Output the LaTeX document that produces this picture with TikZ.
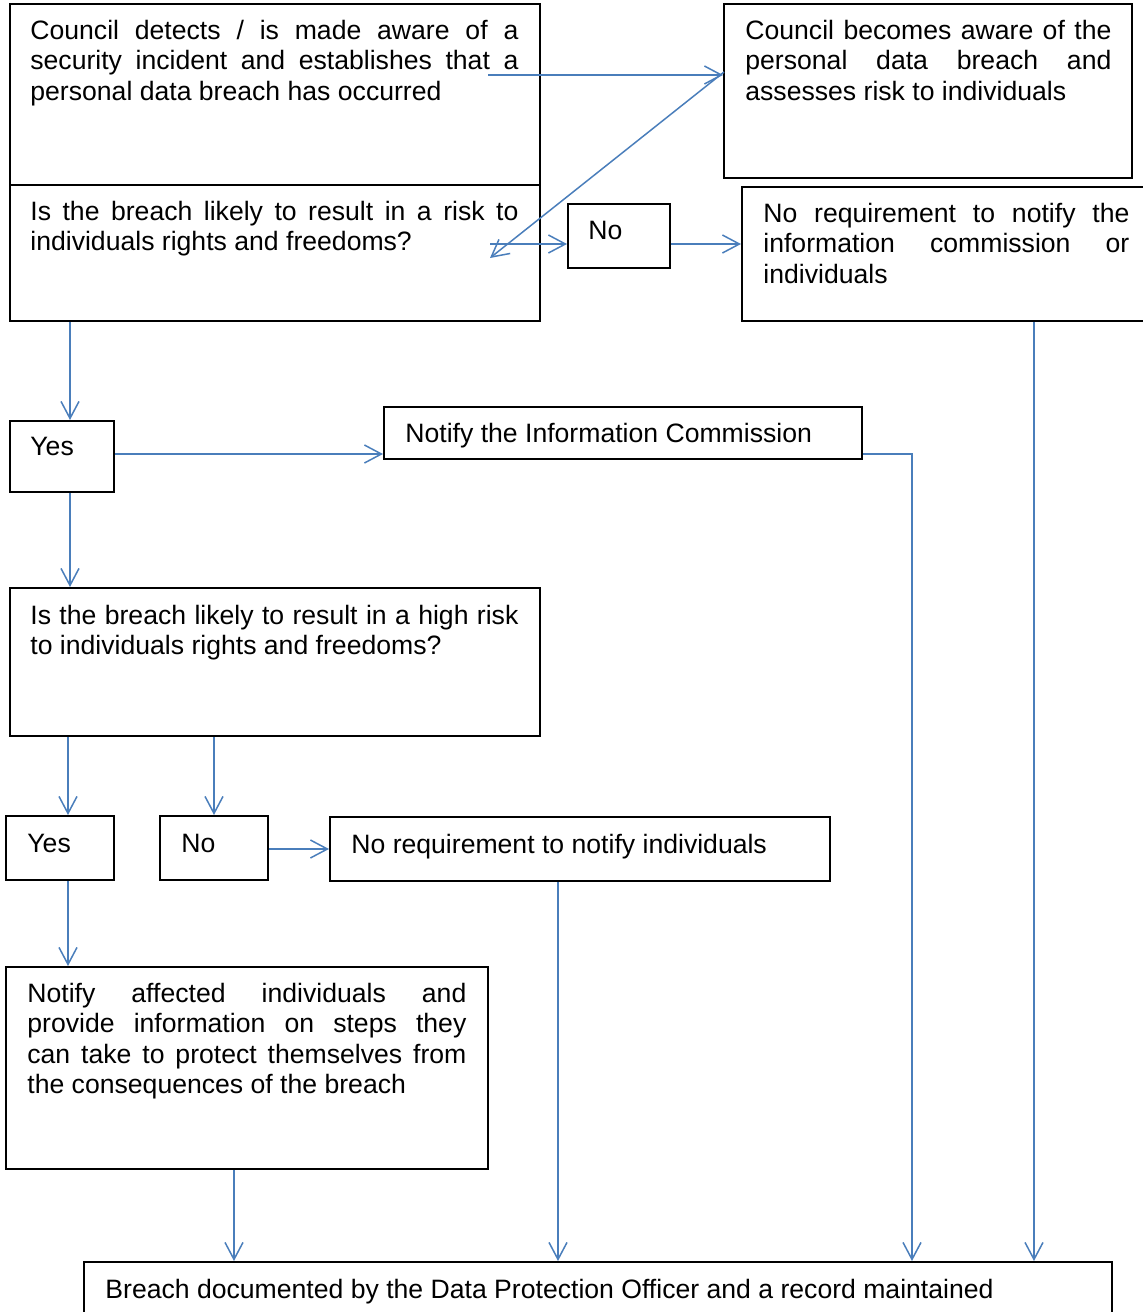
\documentclass[tikz,border=0pt]{standalone}
\usepackage{fontspec}
\setmainfont{Liberation Sans}
\usetikzlibrary{arrows.meta,fit}
\definecolor{lineblue}{HTML}{4A7EBB}
\newcommand\fs{\fontsize{13.3pt}{15.25pt}\selectfont\hyphenpenalty=10000\tolerance=10000\emergencystretch=20pt}
\newcommand\tl{\rule{0pt}{10.5pt}}
\begin{document}
\begin{tikzpicture}[x=0.5pt,y=-0.5pt,
  box/.style={draw=black,line width=1pt,inner sep=0pt},
  txt/.style={anchor=north west,inner sep=0pt,align=justify,font=\fs},
  arr/.style={draw=lineblue,line width=0.75pt,-{Straight Barb[length=8.5pt,width=9pt]}},
  seg/.style={draw=lineblue,line width=0.75pt}]
\useasboundingbox (0,0) rectangle (1142,1312);
% boxes
\node[box,fit={(10,4) (540,185)}] (A) {};
\node[box,fit={(10,185) (540,321)}] (B) {};
\node[box,fit={(724,4) (1132,178)}] (C) {};
\node[box,fit={(568,204) (670,268)}] (No1) {};
\node[box,fit={(742,187) (1152,321)}] (D) {};
\node[box,fit={(10,421) (114,492)}] (Yes1) {};
\node[box,fit={(384,407) (862,459)}] (E) {};
\node[box,fit={(10,588) (540,736)}] (F) {};
\node[box,fit={(6,816) (114,880)}] (Yes2) {};
\node[box,fit={(160,816) (268,880)}] (No2) {};
\node[box,fit={(330,817) (830,881)}] (G) {};
\node[box,fit={(6,967) (488,1169)}] (H) {};
\node[box,fit={(84,1262) (1112,1330)}] (I) {};
% texts
\node[txt,text width=244pt] (tA) at (30,18) {\tl Council detects / is made aware of a\linebreak security incident and establishes that a\linebreak personal data breach has occurred};
\node[txt,text width=244pt] (tB) at (30,199) {\tl Is the breach likely to result in a risk to\linebreak individuals rights and freedoms?};
\node[txt,text width=183pt] (tC) at (745,18) {\tl Council becomes aware of the\linebreak personal data breach and\linebreak assesses risk to individuals};
\node[txt,text width=183pt] (tD) at (763,201) {\tl No requirement to notify the\linebreak information commission or\linebreak individuals};
\node[txt,text width=244pt] (tF) at (30,603) {\tl Is the breach likely to result in a high risk\linebreak to individuals rights and freedoms?};
\node[txt,text width=219.5pt] (tH) at (27,981) {\tl Notify affected individuals and\linebreak provide information on steps they\linebreak can take to protect themselves from\linebreak the consequences of the breach};
\node[txt,align=left] (tNo1) at (588,218) {\tl No};
\node[txt,align=left] (tYes1) at (30,434) {\tl Yes};
\node[txt,align=left] (tE) at (405,421) {\tl Notify the Information Commission};
\node[txt,align=left] (tYes2) at (27,831) {\tl Yes};
\node[txt,align=left] (tNo2) at (181,831) {\tl No};
\node[txt,align=left] (tG) at (351,832) {\tl No requirement to notify individuals};
\node[txt,align=left] (tI) at (105,1277) {\tl Breach documented by the Data Protection Officer and a record maintained};
% connectors
\coordinate (a1) at (488,75);
\coordinate (d1) at (724,72);
\coordinate (d2) at (490,258);
\coordinate (n1) at (490,244);
\coordinate (e1) at (912,454);
\draw[arr] (a1) -- (a1 -| C.west);
\draw[arr] (d1) -- (d2);
\draw[arr] (n1) -- (n1 -| No1.west);
\draw[arr] (No1.east |- 0,244) -- (D.west |- 0,244);
\draw[arr] (B.south -| 70,0) -- (Yes1.north -| 70,0);
\draw[arr] (Yes1.east |- 0,454) -- (E.west |- 0,454);
\draw[arr] (Yes1.south -| 70,0) -- (F.north -| 70,0);
\draw[arr] (F.south -| 68,0) -- (Yes2.north -| 68,0);
\draw[arr] (F.south -| 214,0) -- (No2.north -| 214,0);
\draw[arr] (No2.east |- 0,849) -- (G.west |- 0,849);
\draw[arr] (Yes2.south -| 68,0) -- (H.north -| 68,0);
\draw[arr] (H.south -| 234,0) -- (I.north -| 234,0);
\draw[arr] (G.south -| 558,0) -- (I.north -| 558,0);
\draw[arr] (E.east |- e1) -- (e1) -- (I.north -| e1);
\draw[arr] (D.south -| 1034,0) -- (I.north -| 1034,0);
\end{tikzpicture}
\end{document}
